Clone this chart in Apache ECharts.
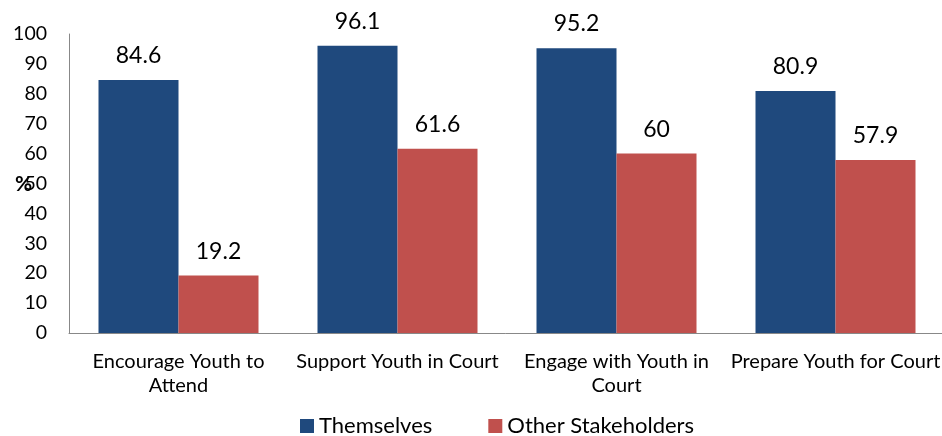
<!DOCTYPE html>
<html><head><meta charset="utf-8">
<script src="https://cdn.jsdelivr.net/npm/echarts@6/dist/echarts.min.js"></script>
<style>html,body{margin:0;padding:0;background:#fff}#c{width:942px;height:436px}</style>
</head><body><div id="c"></div>
<script>
const categories = ["Encourage Youth to\nAttend", "Support Youth in Court", "Engage with Youth in\nCourt", "Prepare Youth for Court"];
const themselves = [84.6, 96.1, 95.2, 80.9];
const otherStakeholders = [19.2, 61.6, 60, 57.9];
const yTicks = [0, 10, 20, 30, 40, 50, 60, 70, 80, 90, 100];

const font = "Lato, 'Open Sans', sans-serif";
const chart = echarts.init(document.getElementById('c'), null, {renderer: 'canvas'});
chart.setOption({
  animation: false,
  textStyle: {fontFamily: font},
  grid: {left: 69, right: -3, top: 34, bottom: 103, containLabel: false, outerBoundsMode: 'none'},
  legend: {
    top: 410, left: 295, itemWidth: 14, itemHeight: 14, itemGap: 56,
    icon: 'rect',
    textStyle: {fontSize: 22, color: '#000', fontFamily: font},
    data: ['Themselves', 'Other Stakeholders']
  },
  graphic: [{
    type: 'text', left: 15, top: 174,
    style: {text: '%', fontSize: 21, fontWeight: 'bold', fill: '#000', fontFamily: font}
  }],
  xAxis: {
    type: 'category', data: categories,
    axisLine: {lineStyle: {color: '#888', width: 1}},
    axisTick: {show: false},
    axisLabel: {color: '#000', fontSize: 20, lineHeight: 24, margin: 17, interval: 0, fontFamily: font}
  },
  yAxis: {
    type: 'value', min: yTicks[0], max: yTicks[yTicks.length-1], interval: 10,
    axisLine: {show: true, lineStyle: {color: '#888', width: 1}},
    axisTick: {show: false},
    splitLine: {show: false},
    axisLabel: {color: '#000', fontSize: 19.5, margin: 22, fontFamily: font}
  },
  series: [
    {name: 'Themselves', type: 'bar', data: themselves, barWidth: 80, barGap: '0%',
     itemStyle: {color: '#1F497D'},
     label: {show: true, position: 'top', distance: 13, fontSize: 23, color: '#000', fontFamily: font}},
    {name: 'Other Stakeholders', type: 'bar', data: otherStakeholders, barWidth: 80, barGap: '0%',
     itemStyle: {color: '#C0504D'},
     label: {show: true, position: 'top', distance: 13, fontSize: 23, color: '#000', fontFamily: font}}
  ]
});
</script></body></html>
